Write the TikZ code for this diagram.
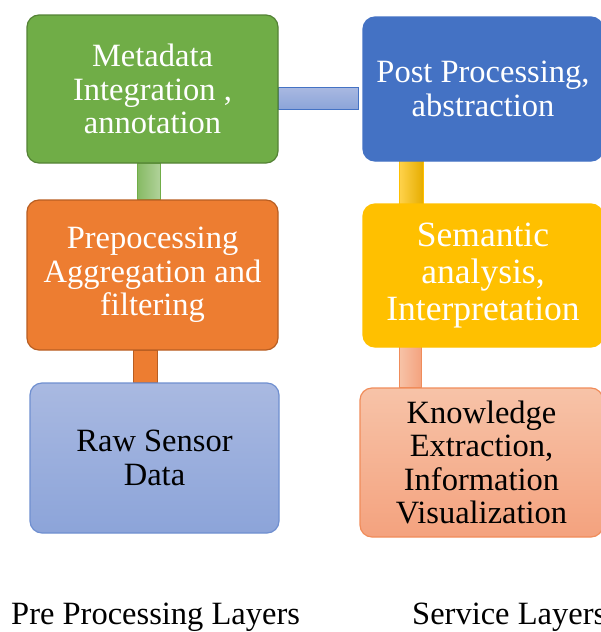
\documentclass[tikz,border=0pt]{standalone}
\usepackage{fontspec}
\setmainfont{Liberation Serif}
\usetikzlibrary{backgrounds}
\definecolor{cGreen}{HTML}{70AD47}
\definecolor{cGreenD}{HTML}{548235}
\definecolor{cBlue}{HTML}{4472C4}
\definecolor{cOrange}{HTML}{ED7D31}
\definecolor{cOrangeD}{HTML}{B85E22}
\definecolor{cYellow}{HTML}{FFC000}
\definecolor{cRawT}{HTML}{A9B9E1}
\definecolor{cRawB}{HTML}{8CA4D9}
\definecolor{cRawD}{HTML}{6F8FD0}
\definecolor{cSalT}{HTML}{F7C3A8}
\definecolor{cSalB}{HTML}{F4A27E}
\definecolor{cSalD}{HTML}{F08C5A}
\begin{document}
\begin{tikzpicture}[x=1pt,y=-1pt,
  box/.style={rounded corners=12pt, align=center, inner sep=0pt, line width=1.2pt,
    font=\fontsize{32.5}{33.5}\selectfont},
  lbl/.style={font=\fontsize{32.5}{34}\selectfont, anchor=base west, inner sep=0pt},
  bar/.style={line width=0.8pt}]
\useasboundingbox (0,0) rectangle (601,632);
\clip (0,0) rectangle (601,632);

\node[box, fill=cGreen, draw=cGreenD, text=white, minimum width=251pt, minimum height=148pt]
  (meta) at (152.5,89) {Metadata\\Integration ,\\annotation};
\node[box, fill=cOrange, draw=cOrangeD, text=white, minimum width=251pt, minimum height=150pt]
  (pre) at (152.5,275) {Prepocessing\\Aggregation and\\filtering};
\node[box, top color=cRawT, bottom color=cRawB, draw=cRawD, text=black, minimum width=249pt, minimum height=150pt]
  (raw) at (154.5,458) {Raw Sensor\\Data};
\node[box, fill=cBlue, draw=cBlue, text=white, minimum width=240pt, minimum height=144pt]
  (post) at (483,89) {Post Processing,\\abstraction};
\node[box, fill=cYellow, draw=cYellow, text=white, minimum width=240pt, minimum height=143pt,
  font=\fontsize{35.5}{37}\selectfont]
  (sem) at (483,275.5) {Semantic\\analysis,\\Interpretation};
\node[box, top color=cSalT, bottom color=cSalB, draw=cSalD, text=black, minimum width=243pt, minimum height=149pt]
  (know) at (481.5,462.5) {Knowledge\\Extraction,\\Information\\Visualization};

\begin{scope}[on background layer]
  % meta -> post horizontal bar
  \draw[bar, draw=cBlue, top color=cRawT, bottom color=cRawB]
    ([yshift=-20pt]meta.east) rectangle ([yshift=2pt,xshift=-4pt]post.west);
  % meta -> pre
  \draw[bar, draw=cGreen, left color=cGreen!85, right color=cGreen!55]
    ([xshift=-15.5pt]meta.south) rectangle ([xshift=7.5pt]pre.north);
  % pre -> raw
  \draw[bar, draw=cOrangeD, fill=cOrange]
    ([xshift=-19.5pt]pre.south) rectangle ([xshift=2.5pt]raw.north);
  % post -> sem
  \draw[bar, draw=cYellow, left color=cYellow!70, right color=cYellow!90!black]
    ([xshift=-84pt,yshift=5pt]post.south) rectangle ([xshift=-60pt,yshift=-4pt]sem.north);
  % sem -> know
  \draw[bar, draw=cSalD, left color=cSalT, right color=cSalB]
    ([xshift=-84pt,yshift=6pt]sem.south) rectangle ([xshift=-60pt]know.north);
\end{scope}

\node[lbl] (lpre) at (11,624) {Pre Processing Layers};
\node[lbl] (lsvc) at (412,624) {Service Layers};
\end{tikzpicture}
\end{document}
